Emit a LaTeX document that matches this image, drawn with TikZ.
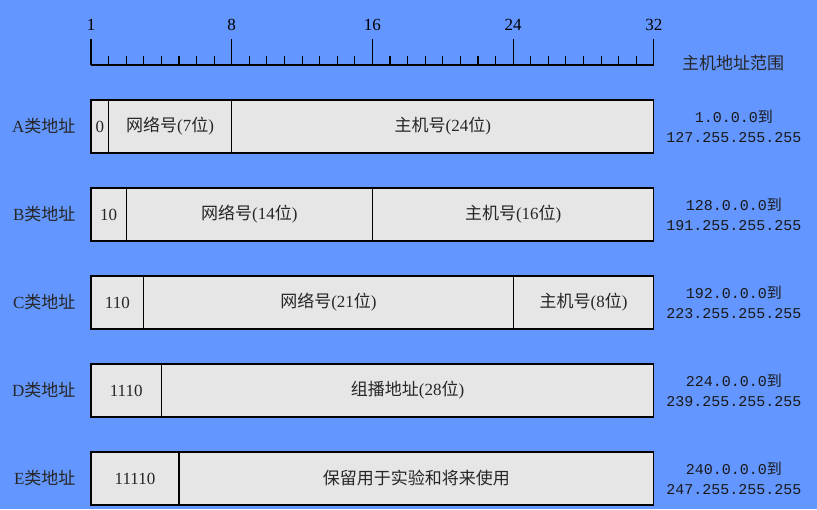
\documentclass[tikz,border=0pt]{standalone}
\usepackage{fontspec}
\setmainfont{Liberation Serif}
\setmonofont{Liberation Mono}
\newfontfamily\cjk{Noto Sans CJK SC}
\usetikzlibrary{positioning}
\definecolor{bgblue}{RGB}{100,150,255}
\definecolor{boxgray}{RGB}{230,230,230}
\newcommand{\zh}[1]{{\cjk #1}}
\newcommand{\bitw}{17.59pt}

\begin{document}
\begin{tikzpicture}[x=1pt,y=-1pt,
        field/.style={draw,fill=boxgray,line width=1.2pt,outer sep=0pt,inner sep=0pt,
            minimum height=53pt,text=black!85,font=\fontsize{17}{17}\selectfont},
        rowlabel/.style={text=black!85,font=\fontsize{17}{17}\selectfont},
        addrrange/.style={align=center,text=black!90,font=\ttfamily\fontsize{15}{20}\selectfont},
        tick/.style={line width=1.1pt}]
    \fill[bgblue] (0,0) rectangle (817,509);
    \useasboundingbox (0,0) rectangle (817,509);

    \draw[tick] (91,65) -- (654,65);
    \foreach \k in {0,...,32}
        \draw[tick] (91+\k*17.59,65) -- ++(0,-9);
    \foreach \k/\lab in {0/1,8/8,16/16,24/24,32/32} {
        \draw[tick] (91+\k*17.59,65) -- ++(0,-26);
        \node[font=\fontsize{17}{17}\selectfont] at (91+\k*17.59,25) {\lab};
    }
    \node[rowlabel] (title) at (733,63) {\zh{主机地址范围}};

    \node[field,minimum width=\bitw,anchor=north west] (a0) at (91,100) {0};
    \node[field,minimum width=7*\bitw] (anet) [right=0pt of a0] {\zh{网络号}(7\zh{位})};
    \node[field,minimum width=24*\bitw] (ahost) [right=0pt of anet] {\zh{主机号}(24\zh{位})};
    \node[rowlabel] (alabel) [left=12pt of a0] {A\zh{类地址}};
    \node[addrrange] (arange) [right=9pt of ahost] {1.0.0.0\zh{到}\\127.255.255.255};

    \node[field,minimum width=2*\bitw,anchor=north west] (b0) at (91,188) {10};
    \node[field,minimum width=14*\bitw] (bnet) [right=0pt of b0] {\zh{网络号}(14\zh{位})};
    \node[field,minimum width=16*\bitw] (bhost) [right=0pt of bnet] {\zh{主机号}(16\zh{位})};
    \node[rowlabel] (blabel) [left=12pt of b0] {B\zh{类地址}};
    \node[addrrange] (brange) [right=9pt of bhost] {128.0.0.0\zh{到}\\191.255.255.255};

    \node[field,minimum width=3*\bitw,anchor=north west] (c0) at (91,276) {110};
    \node[field,minimum width=21*\bitw] (cnet) [right=0pt of c0] {\zh{网络号}(21\zh{位})};
    \node[field,minimum width=8*\bitw] (chost) [right=0pt of cnet] {\zh{主机号}(8\zh{位})};
    \node[rowlabel] (clabel) [left=12pt of c0] {C\zh{类地址}};
    \node[addrrange] (crange) [right=9pt of chost] {192.0.0.0\zh{到}\\223.255.255.255};

    \node[field,minimum width=4*\bitw,anchor=north west] (d0) at (91,364) {1110};
    \node[field,minimum width=28*\bitw] (dgroup) [right=0pt of d0] {\zh{组播地址}(28\zh{位})};
    \node[rowlabel] (dlabel) [left=12pt of d0] {D\zh{类地址}};
    \node[addrrange] (drange) [right=9pt of dgroup] {224.0.0.0\zh{到}\\239.255.255.255};

    \node[field,minimum width=5*\bitw,anchor=north west] (e0) at (91,452) {11110};
    \node[field,minimum width=27*\bitw] (ekeep) [right=0pt of e0] {\zh{保留用于实验和将来使用}};
    \node[rowlabel] (elabel) [left=12pt of e0] {E\zh{类地址}};
    \node[addrrange] (erange) [right=9pt of ekeep] {240.0.0.0\zh{到}\\247.255.255.255};
\end{tikzpicture}
\end{document}
